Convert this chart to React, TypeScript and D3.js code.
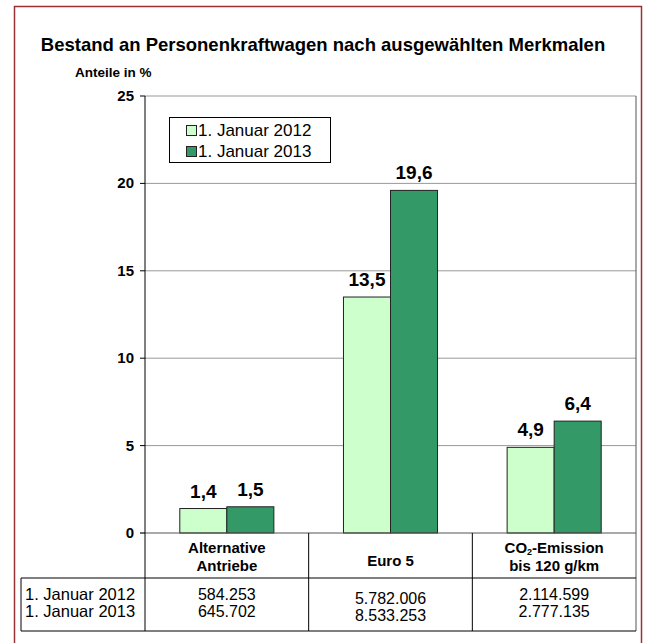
import React from "react";
import * as d3 from "d3";

const categories = ["Alternative Antriebe", "Euro 5", "CO2-Emission bis 120 g/km"];
const seriesNames = ["1. Januar 2012", "1. Januar 2013"];
const values2012 = [1.4, 13.5, 4.9];
const values2013 = [1.5, 19.6, 6.4];
const counts2012 = ["584.253", "5.782.006", "2.114.599"];
const counts2013 = ["645.702", "8.533.253", "2.777.135"];
const yTicks = [0, 5, 10, 15, 20, 25];

const colors = ["#ccffcc", "#339966"];
const font = "'Liberation Sans', Arial, sans-serif";

const App = () => {
  const width = 645;
  const height = 643;
  const plot = { left: 145, right: 636, top: 96, bottom: 533 };
  const tableTop = 578;
  const tableBottom = 631;

  const x = d3.scaleBand().domain(categories).range([plot.left, plot.right]);
  const inner = d3
    .scaleBand()
    .domain(seriesNames)
    .range([0, x.bandwidth()])
    .paddingOuter(0.74);
  const y = d3.scaleLinear().domain([0, 25]).range([plot.bottom, plot.top]);

  const series = [values2012, values2013];
  const fmt = (v: number) => v.toFixed(1).replace(".", ",");
  // Euro 5 column sits a few px lower in the original table
  const rowShift = [0, 4, 0];

  const catLabel = (c: string, i: number) => {
    const cx = (x(c) as number) + x.bandwidth() / 2;
    if (i === 0) {
      return (
        <g key={c} fontWeight="bold" fontSize={15} textAnchor="middle">
          <text x={cx} y={553}>Alternative</text>
          <text x={cx} y={571}>Antriebe</text>
        </g>
      );
    }
    if (i === 1) {
      return (
        <text key={c} x={cx} y={566} textAnchor="middle" fontWeight="bold" fontSize={15}>
          Euro 5
        </text>
      );
    }
    return (
      <g key={c} fontWeight="bold" fontSize={15} textAnchor="middle">
        <text x={cx} y={553}>
          CO<tspan fontSize={9} dy={2}>2</tspan>
          <tspan dy={-2}>-Emission</tspan>
        </text>
        <text x={cx} y={571}>bis 120 g/km</text>
      </g>
    );
  };

  return (
    <svg
      width={width}
      height={height}
      style={{ position: "absolute", left: 0, top: 0, fontFamily: font }}
    >
      <rect x={0} y={0} width={width} height={height} fill="#ffffff" />
      {/* outer frame, open at the bottom */}
      <rect x={14.5} y={6.5} width={627} height={660} fill="none" stroke="#993333" strokeWidth={1.5} />

      <text x={323} y={51} textAnchor="middle" fontWeight="bold" fontSize={18.5}>
        Bestand an Personenkraftwagen nach ausgewählten Merkmalen
      </text>
      <text x={75} y={77} fontWeight="bold" fontSize={13.5}>
        Anteile in %
      </text>

      {/* grid */}
      {yTicks.map((t) => (
        <g key={t}>
          {t > 0 && (
            <line x1={plot.left} x2={plot.right} y1={y(t)} y2={y(t)} stroke="#999999" strokeWidth={1} />
          )}
          <line x1={plot.left - 5} x2={plot.left} y1={y(t)} y2={y(t)} stroke="#000" />
          <text x={134} y={y(t) + 5} textAnchor="end" fontWeight="bold" fontSize={15}>
            {t}
          </text>
        </g>
      ))}
      <line x1={plot.right} x2={plot.right} y1={plot.top} y2={tableBottom} stroke="#555" />

      {/* bars */}
      {categories.map((c, i) => (
        <g key={c} transform={`translate(${x(c)},0)`}>
          {series.map((vals, s) => (
            <g key={s}>
              <rect
                x={inner(seriesNames[s])}
                y={y(vals[i])}
                width={inner.bandwidth()}
                height={y(0) - y(vals[i])}
                fill={colors[s]}
                stroke="#222"
                strokeWidth={1}
              />
              <text
                x={(inner(seriesNames[s]) as number) + inner.bandwidth() / 2}
                y={y(vals[i]) - 11}
                textAnchor="middle"
                fontWeight="bold"
                fontSize={19}
              >
                {fmt(vals[i])}
              </text>
            </g>
          ))}
        </g>
      ))}

      {/* zero line + axis */}
      <line x1={plot.left - 5} x2={plot.right} y1={plot.bottom} y2={plot.bottom} stroke="#555" />
      <line x1={plot.left} x2={plot.left} y1={plot.top} y2={tableBottom} stroke="#000" />

      {/* table */}
      {categories.slice(1).map((c) => (
        <line key={c} x1={x(c)} x2={x(c)} y1={plot.bottom} y2={tableBottom} stroke="#000" />
      ))}
      <line x1={21} x2={plot.right} y1={tableTop} y2={tableTop} stroke="#000" />
      <line x1={21} x2={plot.right} y1={tableBottom} y2={tableBottom} stroke="#000" />
      <line x1={21} x2={21} y1={tableTop} y2={tableBottom} stroke="#000" />
      {categories.map((c, i) => catLabel(c, i))}
      <text x={25} y={600} fontSize={16.5}>{seriesNames[0]}</text>
      <text x={25} y={617} fontSize={16.5}>{seriesNames[1]}</text>
      {categories.map((c, i) => {
        const cx = (x(c) as number) + x.bandwidth() / 2;
        return (
          <g key={c}>
            <text x={cx} y={600 + rowShift[i]} textAnchor="middle" fontSize={16}>{counts2012[i]}</text>
            <text x={cx} y={617 + rowShift[i]} textAnchor="middle" fontSize={16}>{counts2013[i]}</text>
          </g>
        );
      })}

      {/* legend */}
      <rect x={169.5} y={117.5} width={161} height={45} fill="#fff" stroke="#000" />
      {seriesNames.map((n, s) => (
        <g key={n}>
          <rect x={186.5} y={125.5 + s * 21} width={10} height={10} fill={colors[s]} stroke="#222" />
          <text x={198} y={136 + s * 21} fontSize={17}>{n}</text>
        </g>
      ))}
    </svg>
  );
};

export default App;
